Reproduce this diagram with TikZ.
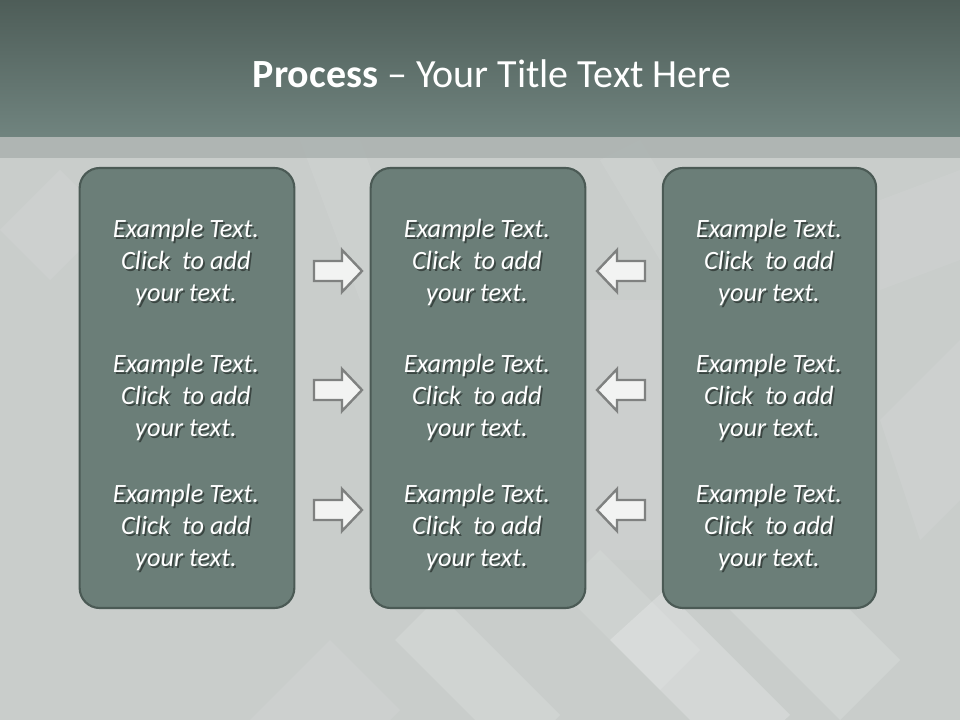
\documentclass[tikz,border=0pt]{standalone}
\usepackage{fontspec}
\setmainfont{Carlito}
\definecolor{bgbody}{HTML}{C9CDCB}
\definecolor{bartop}{HTML}{4E5D58}
\definecolor{barbot}{HTML}{70847F}
\definecolor{band}{HTML}{A4ACA9}
\definecolor{boxfill}{HTML}{6B7E78}
\definecolor{boxline}{HTML}{4B5A55}
\definecolor{arrfill}{HTML}{F2F3F2}
\definecolor{arrline}{HTML}{7F8180}
\tikzset{
  panel/.style={fill=boxfill, draw=boxline, line width=1.6pt, rounded corners=15pt},
  bodytext/.style={align=center, text=white, font=\itshape\fontsize{19.8}{24}\selectfont, inner sep=0pt},
  shadowtext/.style={bodytext, text=black, text opacity=0.45},
  titletext/.style={text=white, font=\fontsize{30}{36}\selectfont, inner sep=0pt, anchor=base},
  blockarrow/.style={fill=arrfill, draw=arrline, line width=1.8pt, line join=miter},
  deco/.style={fill=white, draw=none},
  rarrow/.pic={\path[blockarrow] (-24,-10) -- (4,-10) -- (4,-21) -- (24,0) -- (4,21) -- (4,10) -- (-24,10) -- cycle;}
}
\begin{document}
\begin{tikzpicture}[x=0.75pt, y=-0.75pt]
\useasboundingbox (0,0) rectangle (960,720);
% background
\fill[bgbody] (0,0) rectangle (960,720);
\begin{scope}
\clip (0,137) rectangle (960,720);
\fill[deco, opacity=0.14] (395,640) -- (440,595) -- (560,715) -- (515,760) -- cycle;
\fill[deco, opacity=0.22] (610,640) -- (665,590) -- (790,715) -- (735,765) -- cycle;
\fill[deco, opacity=0.14] (700,580) -- (760,520) -- (900,660) -- (840,720) -- cycle;
\fill[deco, opacity=0.10] (560,590) -- (600,550) -- (700,650) -- (660,690) -- cycle;
\fill[deco, opacity=0.08] (250,720) -- (330,640) -- (400,710) -- (390,720) -- cycle;
\fill[deco, opacity=0.08] (880,420) -- (960,340) -- (960,500) -- (920,540) -- cycle;
\fill[deco, opacity=0.08] (0,230) -- (60,170) -- (110,220) -- (50,280) -- cycle;
\fill[deco, opacity=0.07] (600,160) -- (640,140) -- (700,240) -- (660,260) -- cycle;
\fill[deco, opacity=0.07] (300,140) -- (360,140) -- (420,300) -- (360,300) -- cycle;
\fill[deco, opacity=0.06] (590,300) -- (660,300) -- (660,560) -- (590,560) -- cycle;
\fill[deco, opacity=0.06] (880,200) -- (960,170) -- (960,260) -- (880,290) -- cycle;
\end{scope}
% title bar
\shade[top color=bartop, bottom color=barbot] (0,0) rectangle (960,137);
\fill[band, opacity=0.7] (0,137) rectangle (960,158);
\node[titletext] (title) at (492,88) {\textbf{Process} – Your Title Text Here};
% panels
\node[panel, minimum width=161pt, minimum height=330pt, inner sep=0pt] (b1) at (187,388) {};
\node[panel, minimum width=161pt, minimum height=330pt, inner sep=0pt] (b2) at (478,388) {};
\node[panel, minimum width=160pt, minimum height=330pt, inner sep=0pt] (b3) at (769.5,388) {};
% texts
\foreach \cx/\col in {186/1, 477/2, 769/3}{
  \foreach \cy/\row in {262/1, 397/2, 527/3}{
    \node[shadowtext] (s\col\row) at (\cx+1.8,\cy+2) {Example Text.\\Click~ to add\\your text.};
    \node[bodytext] (t\col\row) at (\cx,\cy) {Example Text.\\Click~ to add\\your text.};
  }
}
% arrows
\foreach \cy/\row in {271/1, 390/2, 510/3}{
  \pic (ra\row) at (338,\cy) {rarrow};
  \pic[xscale=-1] (la\row) at (621,\cy) {rarrow};
}
\end{tikzpicture}
\end{document}
